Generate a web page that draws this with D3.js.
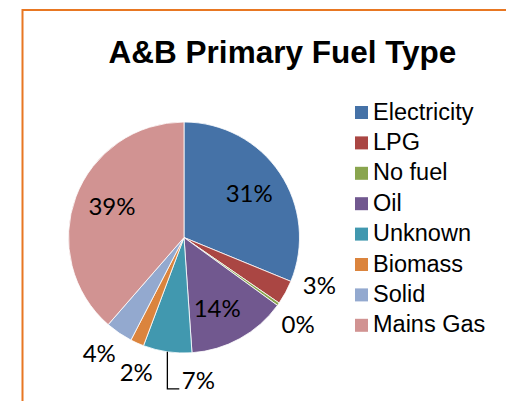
<!DOCTYPE html>
<html>
<head>
<meta charset="utf-8">
<script src="https://cdn.jsdelivr.net/npm/d3@7"></script>
<style>
  body { margin: 0; background: #fff; }
  svg { display: block; }
</style>
</head>
<body>
<script>
// data (percent of dwellings)
let categories = ['Electricity', 'LPG', 'No fuel', 'Oil', 'Unknown', 'Biomass', 'Solid', 'Mains Gas'];
let shares = [31.2, 3.4, 0.4, 13.9, 6.8, 1.9, 3.8, 38.6];
let colours = ['#4572A7', '#AA4643', '#89A54E', '#71588F', '#4198AF', '#DB843D', '#93A9CF', '#D19392'];

let width = 506;
let height = 401;
let cx = 184, cy = 237.5, r = 115.5;

// Excel shuffles the labels a little so they do not collide (degrees)
let labelNudge = { 'LPG': -9, 'No fuel': 2, 'Oil': 4, 'Unknown': -14, 'Biomass': -4.5, 'Solid': 2, 'Mains Gas': 3 };

let svg = d3.select('body')
  .append('svg')
  .attr('width', width)
  .attr('height', height);

// chart frame (runs off the right and bottom of the picture)
svg.append('rect')
  .attr('x', 22.5)
  .attr('y', 10)
  .attr('width', 520)
  .attr('height', 420)
  .attr('fill', 'none')
  .attr('stroke', '#E87722')
  .attr('stroke-width', 2);

svg.append('text')
  .attr('x', 282.5)
  .attr('y', 63)
  .attr('text-anchor', 'middle')
  .style('font-family', 'Liberation Sans, Arial, sans-serif')
  .style('font-weight', 'bold')
  .style('font-size', '31.5px')
  .text('A&B Primary Fuel Type');

let total = d3.sum(shares);
let rows = categories.map((c, i) => ({ name: c, value: shares[i], colour: colours[i] }));

let pie = d3.pie().sort(null).value(d => d.value);
let arcs = pie(rows);
let arc = d3.arc().innerRadius(0).outerRadius(r);

let g = svg.append('g').attr('transform', `translate(${cx},${cy})`);

g.selectAll('path.slice')
  .data(arcs)
  .enter()
  .append('path')
  .attr('class', 'slice')
  .attr('d', arc)
  .attr('fill', d => d.data.colour)
  .attr('stroke', '#fff')
  .attr('stroke-width', 0.8);

let labelFont = 'Lato, Carlito, Calibri, sans-serif';

arcs.forEach(d => {
  let pct = Math.round(d.data.value / total * 100) + '%';
  let mid = (d.startAngle + d.endAngle) / 2;
  let nudge = (labelNudge[d.data.name] || 0) * Math.PI / 180;
  let a = mid + nudge;
  let inside = d.data.value / total >= 0.1;
  let lr = inside ? r * 0.68 : r + 28;
  let x = lr * Math.sin(a);
  let y = -lr * Math.cos(a);
  if (!inside && Math.abs(nudge) > 10 * Math.PI / 180) {
    // leader line from the slice edge down to the label
    let ex = r * Math.sin(mid), ey = -r * Math.cos(mid);
    let tw = 32;
    g.append('path')
      .attr('d', `M${ex},${ey}V${y + 8.5}H${x - tw / 2 - 3}`)
      .attr('fill', 'none')
      .attr('stroke', '#000')
      .attr('stroke-width', 1.3);
  }
  g.append('text')
    .attr('x', x)
    .attr('y', y + 8.5)
    .attr('text-anchor', 'middle')
    .style('font-family', labelFont)
    .style('font-size', '24px')
    .style('fill', '#000')
    .text(pct);
});

// legend
let legend = svg.append('g').attr('transform', 'translate(355,106)');
let step = 30.4;

legend.selectAll('rect')
  .data(rows)
  .enter()
  .append('rect')
  .attr('x', 0)
  .attr('y', (d, i) => i * step)
  .attr('width', 13)
  .attr('height', 13)
  .attr('fill', d => d.colour);

legend.selectAll('text')
  .data(rows)
  .enter()
  .append('text')
  .attr('x', 18)
  .attr('y', (d, i) => i * step + 13.5)
  .style('font-family', 'Liberation Sans, Arial, sans-serif')
  .style('font-size', '23.5px')
  .text(d => d.name);
</script>
</body>
</html>
